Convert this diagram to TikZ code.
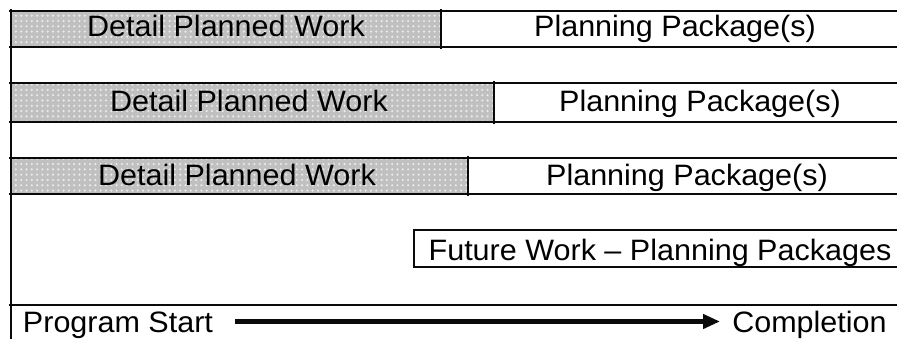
\documentclass[tikz,border=0pt]{standalone}
\usepackage{fontspec}
\setmainfont{Liberation Sans}
\usetikzlibrary{patterns,arrows.meta}
\pgfdeclarepatternformonly{bardots}{\pgfpoint{-2.65pt}{-2.65pt}}{\pgfpoint{2.65pt}{2.65pt}}{\pgfpoint{5.3pt}{5.3pt}}{\pgfpathcircle{\pgfpointorigin}{1.2pt}\pgfusepath{fill}}
\definecolor{bargray}{RGB}{192,192,192}
\definecolor{dotgray}{RGB}{235,235,235}
\definecolor{ink}{RGB}{10,10,10}
\newcommand{\wide}[1]{\scalebox{1.035}[1]{#1}}
\tikzset{
  rule/.style={draw=ink,line width=2pt},
  label/.style={inner sep=0pt,anchor=base,text=black,font=\fontsize{29.5}{32}\selectfont},
  graybar/.style={fill=bargray},
  dotbar/.style={pattern=bardots,pattern color=dotgray},
}
\begin{document}
\begin{tikzpicture}[x=1pt,y=-1pt]
\useasboundingbox (0,0) rectangle (897,339);
\clip (0,0) rectangle (897,339);
% gray detail parts
\foreach \t/\b/\d in {11/47.5/440.7, 83.3/121.7/494.3, 157.7/194.2/467.7}{
  \fill[graybar] (11,\t) rectangle (\d,\b);
  \fill[dotbar] (11,\t) rectangle (\d,\b);
  \draw[rule] (9,\t) -- (905,\t);
  \draw[rule] (9,\b) -- (905,\b);
  \draw[rule] (\d,\t-2) -- (\d,\b+2);
}
% future work box
\draw[rule] (905,230.5) -- (414.3,230.5) -- (414.3,267) -- (905,267);
% bottom rule and left axis
\draw[rule] (9,305.3) -- (905,305.3);
\draw[rule] (11,9) -- (11,345);
% texts
\node[label] (d1) at (226,37) {\wide{Detail Planned Work}};
\node[label] (p1) at (675,37) {\wide{Planning Package(s)}};
\node[label] (d2) at (249,111.7) {\wide{Detail Planned Work}};
\node[label] (p2) at (700,111.7) {\wide{Planning Package(s)}};
\node[label] (d3) at (237,185.7) {\wide{Detail Planned Work}};
\node[label] (p3) at (687,185.7) {\wide{Planning Package(s)}};
\node[label] (fw) at (660,260) {\wide{Future Work – Planning Packages}};
\node[label] (ps) at (118,332.7) {\wide{Program Start}};
\node[label] (cp) at (809.5,332.7) {\wide{Completion}};
% arrow
\coordinate (arrS) at (235,321.5);
\coordinate (arrE) at (720,321.5);
\draw[ink,line width=5pt,-{Triangle[length=17pt,width=14pt]}] (arrS) -- (arrE);
\end{tikzpicture}
\end{document}
